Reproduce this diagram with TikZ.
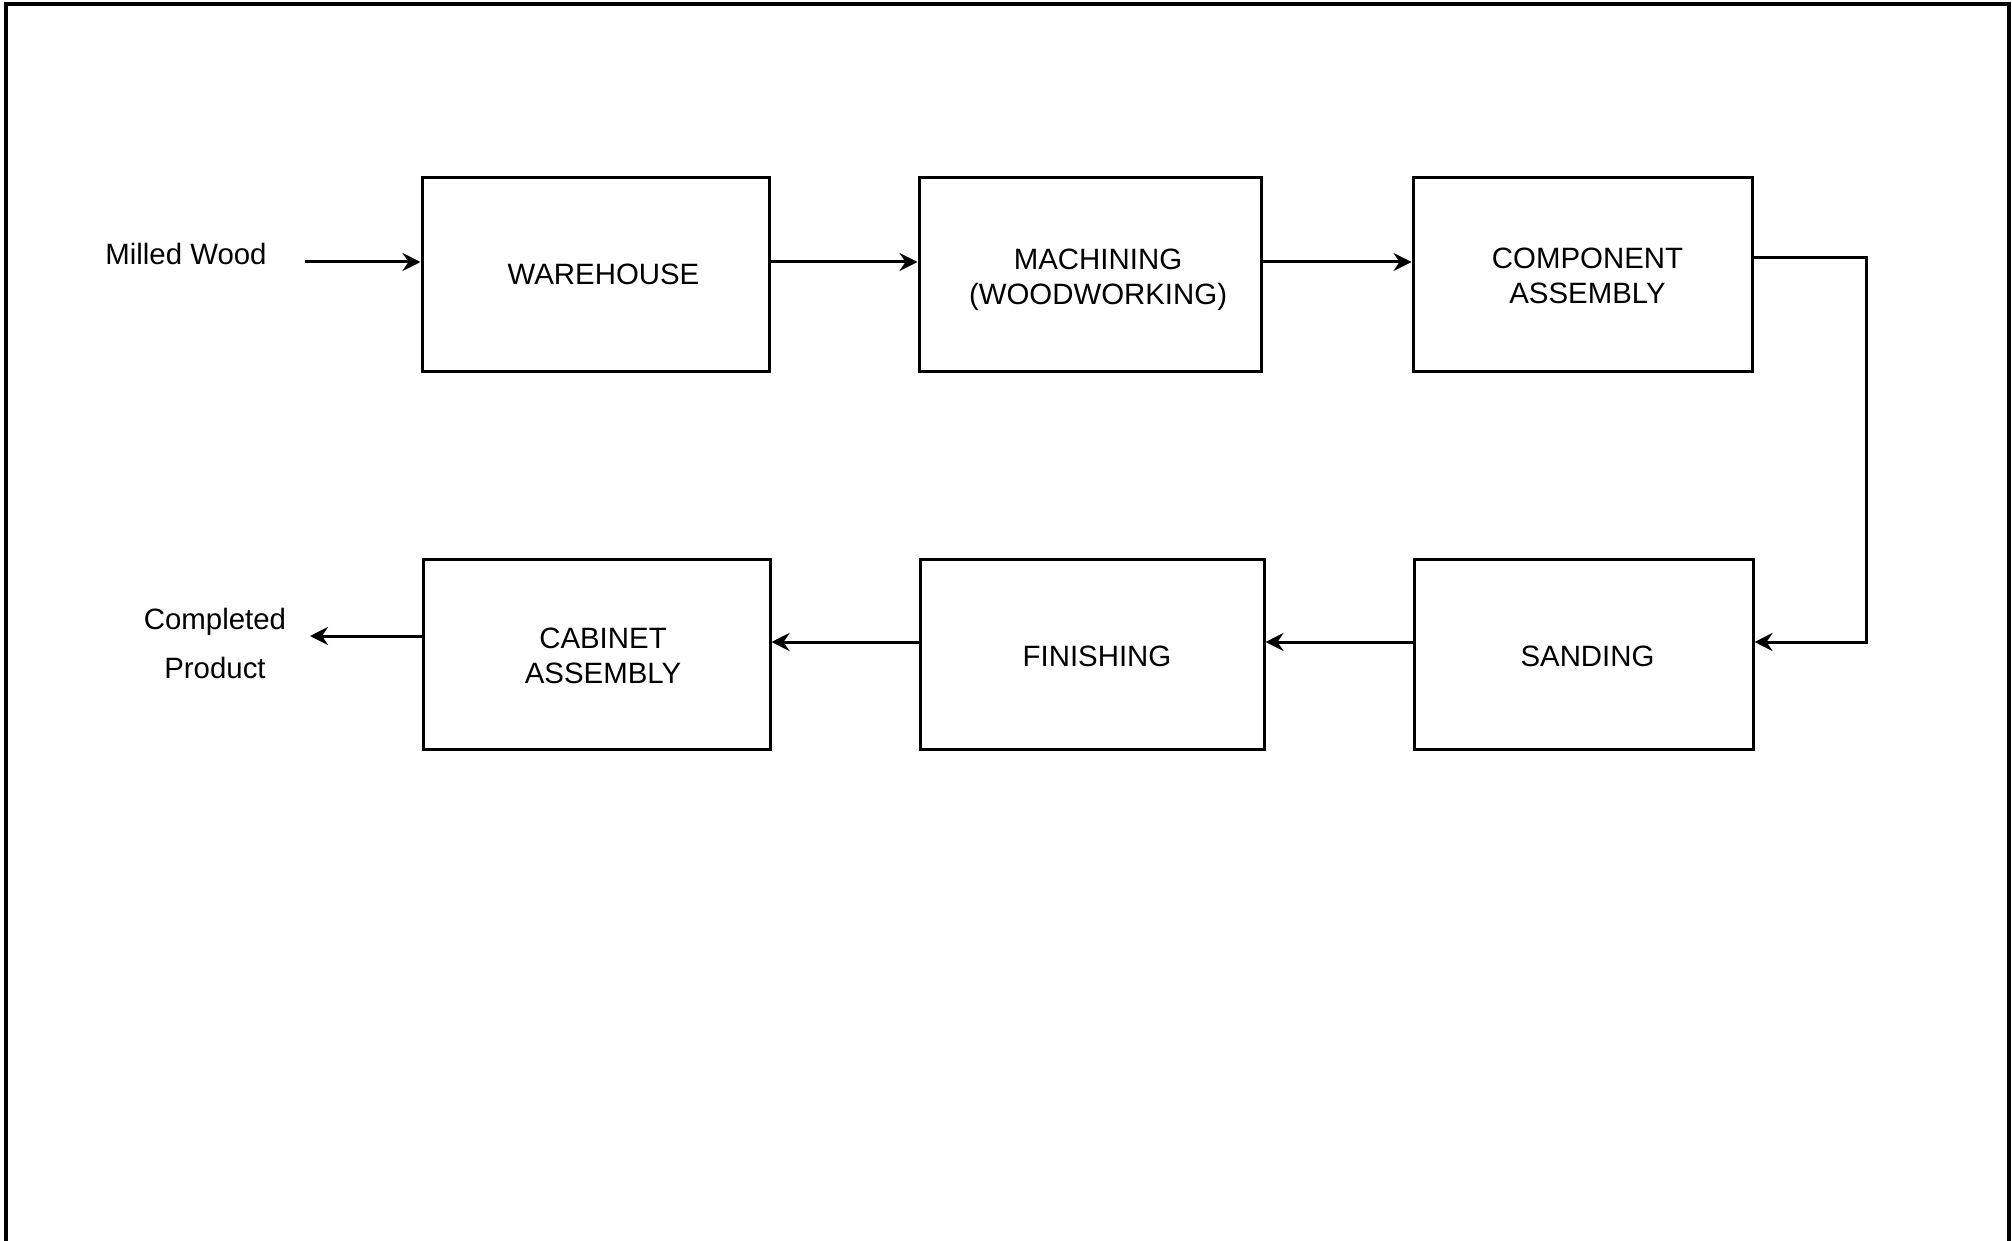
\documentclass[tikz,border=0pt]{standalone}
\usepackage{fontspec}
\setmainfont{Liberation Sans}
\usetikzlibrary{arrows.meta}
\begin{document}
\begin{tikzpicture}[x=0.5pt,y=-0.5pt,
  box/.style={draw,line width=1.5pt,inner sep=0pt},
  lbl/.style={inner sep=0pt,align=center,font=\fontsize{14.7pt}{17.5pt}\selectfont},
  arr/.style={line width=1.5pt,-{Stealth[length=9pt,width=9pt,inset=3pt]}},
  frame/.style={line width=2pt}]
\useasboundingbox (0,0) rectangle (2012,1241);
\draw[frame] (6,1241) -- (6,4.5) -- (2009,4.5) -- (2009,1241);
% boxes
\node[box,minimum width=173.5pt,minimum height=96.5pt] (wh) at (595.5,274.5) {};
\node[box,minimum width=171pt,minimum height=96.5pt] (mach) at (1090,274.5) {};
\node[box,minimum width=169.5pt,minimum height=96.5pt] (comp) at (1582.5,274.5) {};
\node[box,minimum width=173.5pt,minimum height=95pt] (cab) at (596.5,654) {};
\node[box,minimum width=172pt,minimum height=95pt] (fin) at (1092,654) {};
\node[box,minimum width=169.5pt,minimum height=95pt] (sand) at (1583.5,654) {};
% box texts
\node[lbl] (whT) at ([shift={(8,0)}]wh.center) {WAREHOUSE};
\node[lbl] (machT) at ([shift={(8,5)}]mach.center) {MACHINING\\(WOODWORKING)};
\node[lbl] (compT) at ([shift={(5,1.5)}]comp.center) {COMPONENT\\ASSEMBLY};
\node[lbl] (cabT) at ([shift={(6.5,1.5)}]cab.center) {CABINET\\ASSEMBLY};
\node[lbl] (finT) at ([shift={(5,2.5)}]fin.center) {FINISHING};
\node[lbl] (sandT) at ([shift={(4,2.5)}]sand.center) {SANDING};
% labels
\node[lbl] (mw) at (186,254) {Milled Wood};
\node[lbl,font=\fontsize{14.7pt}{24.5pt}\selectfont] (cp) at (215,643) {Completed\\Product};
% row coordinates
\coordinate (r1) at (0,262);
\coordinate (r2) at (0,642);
\coordinate (r3) at (0,636);
\coordinate (mwend) at (305,262);
\coordinate (cpend) at (310,636);
\coordinate (cornerA) at (1866,258);
\coordinate (cornerB) at (1866,642);
% connectors
\draw[arr] (mwend) -- (wh.west |- r1);
\draw[arr] (wh.east |- r1) -- (mach.west |- r1);
\draw[arr] (mach.east |- r1) -- (comp.west |- r1);
\draw[arr] (comp.east |- cornerA) -- (cornerA) -- (cornerB) -- (sand.east |- cornerB);
\draw[arr] (sand.west |- r2) -- (fin.east |- r2);
\draw[arr] (fin.west |- r2) -- (cab.east |- r2);
\draw[arr] (cab.west |- r3) -- (cpend);
\end{tikzpicture}
\end{document}
